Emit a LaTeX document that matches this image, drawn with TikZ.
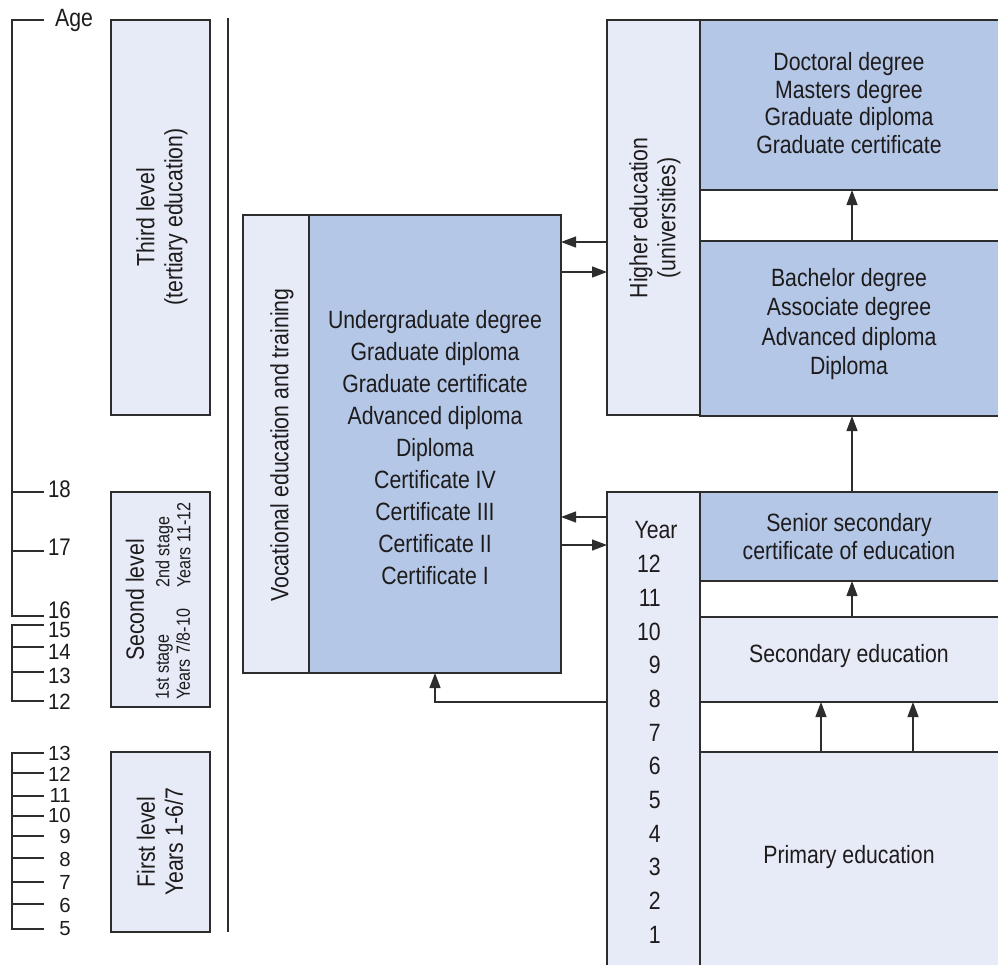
\documentclass[tikz,border=0pt]{standalone}
\usepackage{fontspec}
\setmainfont{Liberation Sans}[FakeStretch=0.85]
\usetikzlibrary{arrows.meta}
\definecolor{dk}{RGB}{180,199,230}
\definecolor{lt}{RGB}{230,235,247}
\definecolor{ln}{RGB}{45,45,45}
\definecolor{tx}{RGB}{30,27,28}
\begin{document}
\begin{tikzpicture}[x=1pt,y=-1pt,
 box/.style={draw=ln,line width=1.3pt,inner sep=0pt,outer sep=0pt,anchor=north west},
 lbox/.style={box,fill=lt}, dbox/.style={box,fill=dk},
 txt/.style={text=tx,font=\fontsize{25}{28}\selectfont,inner sep=0pt,align=center},
 small/.style={text=tx,font=\fontsize{19}{21}\selectfont,inner sep=0pt,align=left},
 arr/.style={draw=ln,line width=1.3pt,-{Triangle[length=15pt,width=11pt]}},
 scl/.style={draw=ln,line width=1.5pt},
 num/.style={text=tx,font=\fontsize{24}{26}\selectfont,inner sep=0pt,anchor=east}]
\useasboundingbox (0,0) rectangle (998,964);
% left column boxes
\node[lbox,minimum width=99pt,minimum height=395pt] (third) at (111,20) {};
\node[lbox,minimum width=99pt,minimum height=215pt] (second) at (111,492) {};
\node[lbox,minimum width=99pt,minimum height=180pt] (first) at (111,752) {};
\node[txt,rotate=90] (thirdT) at (162,217) {Third level\\(tertiary education)};
\node[txt,rotate=90] (secondT) at (135,600) {Second level};
\node[small,rotate=90,anchor=west] (stage1) at (173,700) {1st stage\\Years 7/8-10};
\node[small,rotate=90,anchor=west] (stage2) at (173,588) {2nd stage\\Years 11-12};
\node[txt,rotate=90] (firstT) at (160,842) {First level\\Years 1-6/7};
% separator
\coordinate (sepTop) at (228,18);
\coordinate (sepBot) at (228,932);
\draw[draw=ln,line width=1.6pt] (sepTop) -- (sepBot);
% age scale
\draw[scl] (44,20) -- (12,20) -- (12,616) -- (44,616);
\draw[scl] (12,492) -- (44,492);
\draw[scl] (12,551) -- (44,551);
\node[text=tx,font=\fontsize{25}{28}\selectfont,inner sep=0pt,anchor=west] (age) at (55,20) {Age};
\node[num] (a18) at (71,489) {18};
\node[num] (a17) at (71,547) {17};
\node[num] (a16) at (71,610) {16};
\draw[scl] (44,625) -- (12,625) -- (12,701) -- (44,701);
\draw[scl] (12,647) -- (44,647);
\draw[scl] (12,672) -- (44,672);
\node[num] (b15) at (71,630) {\scalebox{1}[0.92]{15}};
\node[num] (b14) at (71,652) {\scalebox{1}[0.92]{14}};
\node[num] (b13) at (71,676) {\scalebox{1}[0.92]{13}};
\node[num] (b12) at (71,702) {\scalebox{1}[0.92]{12}};
\draw[scl] (44,753) -- (12,753) -- (12,929) -- (44,929);
\foreach \yy in {773,796,816,836,858,882,904} {\draw[scl] (12,\yy) -- (44,\yy);}
\foreach \lab/\yy in {13/753,12/774,11/795,10/815,9/836,8/859,7/882,6/905,5/929}
  {\node[num] (c\lab) at (71,\yy) {\scalebox{1}[0.85]{\lab}};}
% VET
\node[lbox,minimum width=66pt,minimum height=458pt] (vetL) at (243,215) {};
\node[dbox,minimum width=252pt,minimum height=458pt] (vet) at (309,215) {};
\node[txt,rotate=90] (vetT) at (282,445) {Vocational education and training};
\node[txt,font=\fontsize{25}{32}\selectfont] (vetQ) at (435,448) {Undergraduate degree\\Graduate diploma\\Graduate certificate\\Advanced diploma\\Diploma\\Certificate IV\\Certificate III\\Certificate II\\Certificate I};
% higher education
\node[lbox,minimum width=93pt,minimum height=395pt] (higher) at (607,20) {};
\node[txt,rotate=90] (higherT) at (655,218) {Higher education\\(universities)};
\node[dbox,minimum width=310pt,minimum height=170pt] (doc) at (700,20) {};
\node[txt,font=\fontsize{25}{27.5}\selectfont] (docT) at (849,103) {Doctoral degree\\Masters degree\\Graduate diploma\\Graduate certificate};
\node[dbox,minimum width=310pt,minimum height=175pt] (bach) at (700,241) {};
\node[txt,font=\fontsize{25}{29.3}\selectfont] (bachT) at (849,324) {Bachelor degree\\Associate degree\\Advanced diploma\\Diploma};
% school
\node[lbox,minimum width=93pt,minimum height=490pt] (year) at (607,492) {};
\node[dbox,minimum width=310pt,minimum height=89pt] (senior) at (700,492) {};
\node[txt] (seniorT) at (849,537) {Senior secondary\\certificate of education};
\node[lbox,minimum width=310pt,minimum height=85pt] (secondary) at (700,617) {};
\node[txt] (secondaryT) at (849,656) {Secondary education};
\node[lbox,minimum width=310pt,minimum height=230pt] (primary) at (700,752) {};
\node[txt] (primaryT) at (849,857) {Primary education};
\node[txt] (yearT) at (656,530) {Year};
\foreach \n [count=\i from 0] in {12,11,10,9,8,7,6,5,4,3,2,1}
  {\node[num,font=\fontsize{25}{28}\selectfont] (yr\n) at (661,564+33.7*\i) {\n};}
% arrows
\coordinate (h1) at (0,242);
\coordinate (h2) at (0,272);
\coordinate (h3) at (0,517);
\coordinate (h4) at (0,545);
\coordinate (h5) at (435,702);
\draw[arr] (higher.west |- h1) -- (vet.east |- h1);
\draw[arr] (vet.east |- h2) -- (higher.west |- h2);
\draw[arr] (year.west |- h3) -- (vet.east |- h3);
\draw[arr] (vet.east |- h4) -- (year.west |- h4);
\draw[arr] (year.west |- h5) -- (h5) -- (vet.south -| h5);
\coordinate (v1) at (852,0);
\coordinate (v2) at (821,0);
\coordinate (v3) at (913,0);
\draw[arr] (bach.north -| v1) -- (doc.south -| v1);
\draw[arr] (senior.north -| v1) -- (bach.south -| v1);
\draw[arr] (secondary.north -| v1) -- (senior.south -| v1);
\draw[arr] (primary.north -| v2) -- (secondary.south -| v2);
\draw[arr] (primary.north -| v3) -- (secondary.south -| v3);
\end{tikzpicture}
\end{document}
